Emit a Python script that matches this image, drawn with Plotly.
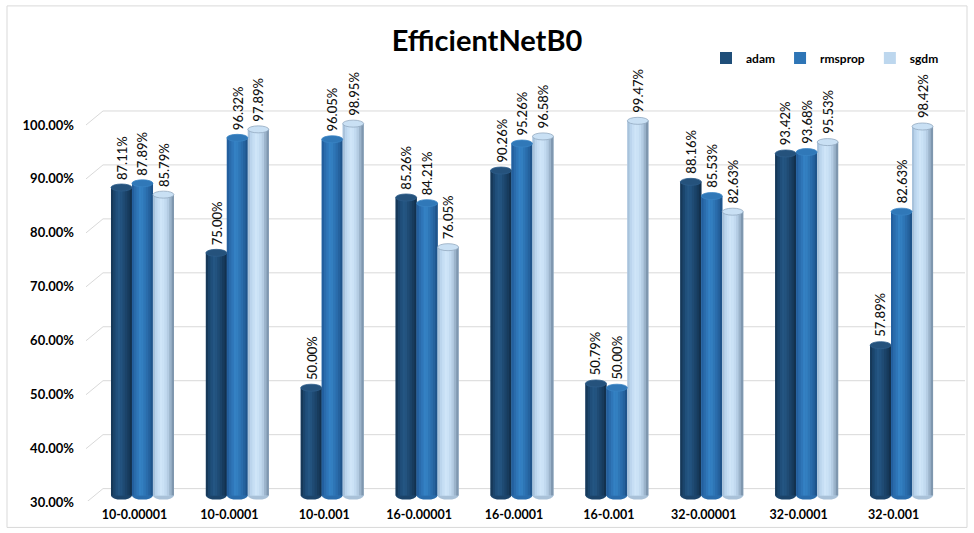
import plotly.graph_objects as go

# ---- data -------------------------------------------------------------
categories = ["10-0.00001", "10-0.0001", "10-0.001", "16-0.00001", "16-0.0001",
              "16-0.001", "32-0.00001", "32-0.0001", "32-0.001"]
adam = [87.11, 75.00, 50.00, 85.26, 90.26, 50.79, 88.16, 93.42, 57.89]
rmsprop = [87.89, 96.32, 96.05, 84.21, 95.26, 50.00, 85.53, 93.68, 82.63]
sgdm = [85.79, 97.89, 98.95, 76.05, 96.58, 99.47, 82.63, 95.53, 98.42]
y_ticks = [30, 40, 50, 60, 70, 80, 90, 100]

series = [("adam", adam), ("rmsprop", rmsprop), ("sgdm", sgdm)]

# ---- style ------------------------------------------------------------
W, H = 974, 533
ML, MT, PW, PH = 95, 91, 854, 409.6
MB = H - MT - PH
MR = W - ML - PW
Y_MIN, Y_MAX, BASE = 29, 105, 30

main_colors = {"adam": "#1f4e79", "rmsprop": "#2e75b6", "sgdm": "#bdd7ee"}
# left-to-right shading of each cylinder
shade = {
    "adam": ["#163858", "#1b456c", "#204f7b", "#245683", "#23537f",
             "#1f4b74", "#1b4369", "#173b5d", "#13314e"],
    "rmsprop": ["#235f9e", "#2a6cac", "#2f76b8", "#3481c3", "#337fc0",
                "#2e76b6", "#2a6cab", "#25629e", "#1f548b"],
    "sgdm": ["#a8c2db", "#bbd5ed", "#c6def4", "#cfe5f8", "#cbe2f6",
             "#c2daf0", "#b4cce3", "#9cb4cb", "#7f97af"],
}
cap_fill = {"adam": "#25527c", "rmsprop": "#3078b8", "sgdm": "#c9e0f4"}
cap_line = {"adam": "#2d5d8a", "rmsprop": "#3a84c4", "sgdm": "#93aac0"}
bottom_fill = {"adam": "#1c446a", "rmsprop": "#2a6cab", "sgdm": "#a9c1d8"}

BAR_W = 0.221
N_STRIPS = len(shade["adam"])
FONT = "Lato"


def px_x(px):
    """Pixel column -> paper x."""
    return (px - ML) / PW


def px_y(py):
    """Pixel row -> paper y."""
    return (MT + PH - py) / PH


fig = go.Figure()
shapes = []
annotations = []

# back-wall gridlines with a short perspective edge on the left
for t in y_ticks:
    shapes.append(dict(type="line", xref="paper", yref="y", layer="below",
                       xsizemode="pixel", xanchor=0, ysizemode="pixel", yanchor=t,
                       x0=-9, x1=8, y0=-7, y1=7,
                       line=dict(color="#d9d9d9", width=1)))
    shapes.append(dict(type="line", xref="paper", yref="y", layer="below",
                       xsizemode="pixel", xanchor=0, ysizemode="pixel", yanchor=t,
                       x0=8, x1=PW + 16, y0=7, y1=7,
                       line=dict(color="#d9d9d9", width=1)))

xs = list(range(len(categories)))
for s, (name, vals) in enumerate(series):
    left = (s - 1.5) * BAR_W
    # base column carrying the legend entry
    fig.add_trace(go.Bar(
        x=xs, y=[v - BASE for v in vals], base=BASE, name=name,
        width=BAR_W, offset=left, marker=dict(color=main_colors[name], line=dict(width=0)),
        legendgroup=name, hoverinfo="skip",
    ))
    # cylinder shading strips
    sw = BAR_W / N_STRIPS
    for k, col in enumerate(shade[name]):
        fig.add_trace(go.Bar(
            x=xs, y=[v - BASE for v in vals], base=BASE, width=sw * 1.08,
            offset=left + k * sw - (0.04 * sw if k else 0),
            marker=dict(color=col, line=dict(width=0)),
            showlegend=False, legendgroup=name, hoverinfo="skip",
        ))
    for i, v in enumerate(vals):
        x0 = i + left
        x1 = x0 + BAR_W
        # rounded bottom
        shapes.append(dict(type="circle", xref="x", yref="y", layer="below",
                           ysizemode="pixel", yanchor=BASE, y0=-4, y1=4,
                           x0=x0, x1=x1, fillcolor=bottom_fill[name],
                           line=dict(width=0)))
        # top cap
        shapes.append(dict(type="circle", xref="x", yref="y", layer="above",
                           ysizemode="pixel", yanchor=v, y0=-3.5, y1=3.5,
                           x0=x0, x1=x1, fillcolor=cap_fill[name],
                           line=dict(color=cap_line[name], width=0.8)))
        annotations.append(dict(x=(x0 + x1) / 2, y=v, xref="x", yref="y",
                                text=f"{v:.2f}%", showarrow=False, textangle=-90,
                                yanchor="bottom", xanchor="center", yshift=6,
                                font=dict(family=FONT, size=13, color="#111111",
                                          weight=500)))

# chart frame
shapes.append(dict(type="rect", xref="paper", yref="paper", layer="below",
                   x0=px_x(7), x1=px_x(967), y0=px_y(527), y1=px_y(6),
                   line=dict(color="#d9d9d9", width=1), fillcolor="rgba(0,0,0,0)"))

fig.update_layout(
    width=W, height=H,
    margin=dict(l=ML, r=MR, t=MT, b=MB),
    barmode="overlay",
    paper_bgcolor="white", plot_bgcolor="rgba(0,0,0,0)",
    title=dict(text="EfficientNetB0", x=0.5, xref="container", xanchor="center",
               y=1 - 41 / H, yref="container", yanchor="middle",
               font=dict(family=FONT, size=29, color="#000000", weight="bold")),
    legend=dict(orientation="h", xref="container", yref="container",
                x=944 / W, xanchor="right", y=1 - 58 / H, yanchor="middle",
                font=dict(family=FONT, size=12, color="#000000", weight="bold"),
                itemwidth=30, bgcolor="rgba(0,0,0,0)"),
    xaxis=dict(range=[-0.5, len(categories) - 0.5], tickvals=xs, ticktext=categories,
               showgrid=False, zeroline=False, showline=False, ticks="",
               ticklabelshift=-8, ticklabelstandoff=4,
               tickfont=dict(family=FONT, size=12.5, color="#000000", weight="bold")),
    yaxis=dict(range=[Y_MIN, Y_MAX], tickvals=y_ticks,
               ticktext=[f"{t:.2f}%" for t in y_ticks],
               showgrid=False, zeroline=False, showline=False, ticks="",
               ticklabelshift=7, ticklabelstandoff=20,
               tickfont=dict(family=FONT, size=13, color="#000000", weight="bold")),
    shapes=shapes,
    annotations=annotations,
    showlegend=True,
)

fig.write_html("out.html")
